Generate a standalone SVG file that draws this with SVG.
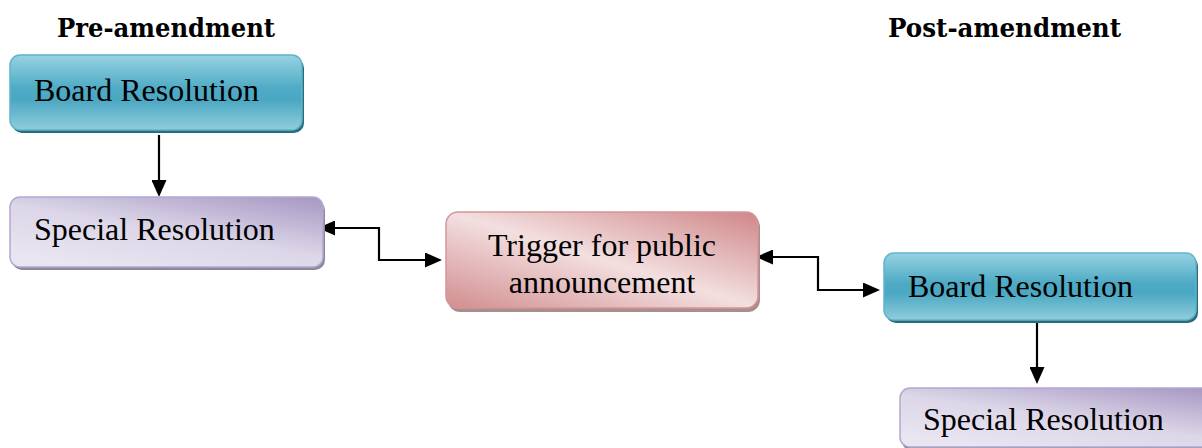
<svg xmlns="http://www.w3.org/2000/svg" width="1202" height="448" viewBox="0 0 1202 448">
  <defs>
    <!-- fills for the three box styles -->
    <linearGradient id="gBoard" x1="0" y1="0" x2="0" y2="1">
      <stop offset="0" stop-color="#97d3e2"/>
      <stop offset="0.45" stop-color="#4eaac5"/>
      <stop offset="0.6" stop-color="#4ba8c3"/>
      <stop offset="1" stop-color="#90cddd"/>
    </linearGradient>
    <linearGradient id="gSpecial" x1="1" y1="0" x2="0.25" y2="1">
      <stop offset="0" stop-color="#a596c2"/>
      <stop offset="0.55" stop-color="#dcd6e8"/>
      <stop offset="1" stop-color="#e9e5f1"/>
    </linearGradient>
    <linearGradient id="gTrigger" x1="1" y1="0" x2="0" y2="1">
      <stop offset="0" stop-color="#cf8688"/>
      <stop offset="0.5" stop-color="#f3dfe0"/>
      <stop offset="1" stop-color="#d28d8f"/>
    </linearGradient>
    <marker id="arrow" viewBox="0 0 17 15" markerUnits="userSpaceOnUse" markerWidth="17" markerHeight="15" refX="13" refY="7.5" orient="auto-start-reverse">
      <path d="M0,0 L17,7.5 L0,15 z" fill="#000"/>
    </marker>
  </defs>
  <style>
    .label { font-family: "Liberation Serif", "Times New Roman", serif; font-size: 32px; fill: #000; }
    .head { font-family: "DejaVu Serif", "Liberation Serif", serif; font-size: 26px; font-weight: bold; fill: #000; }
    .board { fill: url(#gBoard); stroke: #5fb4cb; stroke-width: 1.5; }
    .boardShadow { fill: #2a6b7c; }
    .special { fill: url(#gSpecial); stroke: #b3a8cf; stroke-width: 1.5; }
    .specialShadow { fill: #8d8799; }
    .trigger { fill: url(#gTrigger); stroke: #d69596; stroke-width: 1.5; }
    .triggerShadow { fill: #a98e8e; }
    .conn { fill: none; stroke: #000; stroke-width: 2.2; marker-end: url(#arrow); }
    .both { marker-start: url(#arrow); }
  </style>

  <rect width="1202" height="448" fill="#fff"/>

  <!-- column headings -->
  <text class="head" x="57" y="37" textLength="218" lengthAdjust="spacingAndGlyphs">Pre-amendment</text>
  <text class="head" x="888" y="37" textLength="233" lengthAdjust="spacingAndGlyphs">Post-amendment</text>

  <!-- connectors -->
  <g id="connectors">
    <path class="conn" d="M159,135 V193"/>
    <path class="conn both" d="M322,228 H379 V260 H438"/>
    <path class="conn both" d="M760,257 H818 V290 H876"/>
    <path class="conn" d="M1037,315 V380"/>
  </g>

  <g id="pre-board">
    <rect class="boardShadow" x="12" y="58" width="292" height="75" rx="10"/>
    <rect class="board" x="10" y="55" width="292" height="75" rx="10"/>
    <text class="label" x="34" y="101">Board Resolution</text>
  </g>

  <g id="pre-special">
    <rect class="specialShadow" x="12" y="200" width="313" height="70" rx="10"/>
    <rect class="special" x="10" y="197" width="313" height="70" rx="10"/>
    <text class="label" x="34" y="240">Special Resolution</text>
  </g>

  <g id="trigger">
    <rect class="triggerShadow" x="448" y="215" width="312" height="97" rx="12"/>
    <rect class="trigger" x="446" y="212" width="312" height="96" rx="12"/>
    <text class="label" x="602" y="256" text-anchor="middle">Trigger for public</text>
    <text class="label" x="602" y="293" text-anchor="middle">announcement</text>
  </g>

  <g id="post-board">
    <rect class="boardShadow" x="886" y="256" width="312" height="67" rx="10"/>
    <rect class="board" x="884" y="253" width="312" height="67" rx="10"/>
    <text class="label" x="908" y="297">Board Resolution</text>
  </g>

  <g id="post-special">
    <rect class="specialShadow" x="902" y="391" width="313" height="60" rx="10"/>
    <rect class="special" x="900" y="388" width="313" height="59" rx="10"/>
    <text class="label" x="923" y="430">Special Resolution</text>
  </g>
</svg>
